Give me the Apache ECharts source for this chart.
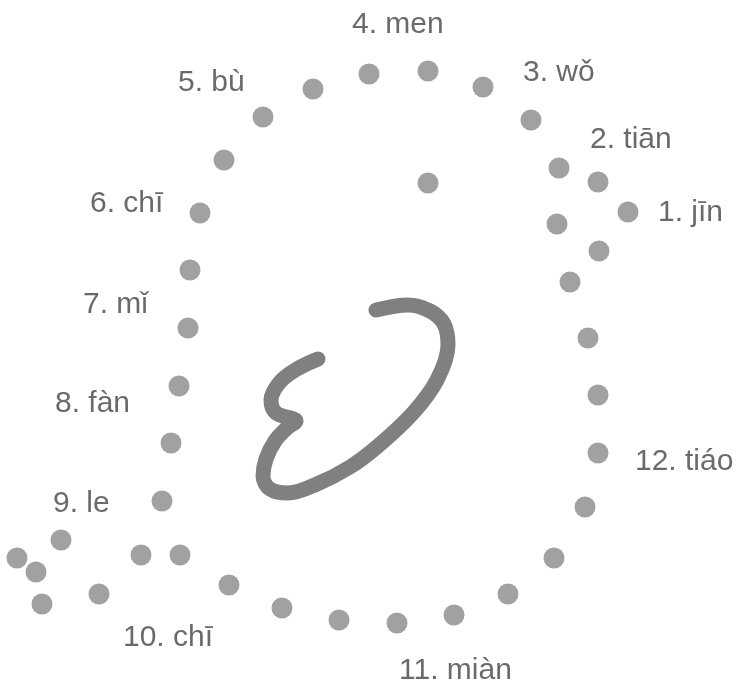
<!DOCTYPE html>
<html>
<head>
<meta charset="utf-8">
<script src="https://cdn.jsdelivr.net/npm/echarts@6/dist/echarts.min.js"></script>
<style>
html,body{margin:0;padding:0;background:#fff;}
#chart{width:743px;height:689px;}
</style>
</head>
<body>
<div id="chart"></div>
<script>
// Dot positions (picture coordinates)
var dotX = [428, 369, 483, 313, 531, 263, 224, 559, 598, 428, 200, 628, 557, 599, 570, 190, 188, 588, 179, 598, 171, 598, 162, 585, 61, 17, 36, 141, 180, 99, 42, 229, 554, 508, 454, 397, 339, 282];
var dotY = [71, 74, 87, 89, 120, 117, 160, 168, 182, 183, 213, 212, 224, 251, 282, 270, 328, 338, 386, 395, 443, 453, 501, 507, 540, 558, 572, 555, 555, 594, 604, 585, 558, 594, 615, 623, 620, 608];

// Hand-drawn stroke in the middle
var strokeX = [318, 297, 280, 271, 276, 296, 287, 275, 266, 263, 270, 288, 317, 350, 378, 413, 437, 448, 444, 430, 408, 376];
var strokeY = [359, 369, 382, 400, 413, 421, 428, 441, 459, 476, 489, 493, 484, 467, 446, 413, 380, 345, 324, 311, 305, 310];

// Word labels
var labelText = ["1. jīn", "2. tiān", "3. wǒ", "4. men", "5. bù", "6. chī", "7. mǐ", "8. fàn", "9. le", "10. chī", "11. miàn", "12. tiáo"];
var labelX = [658, 590, 523, 352, 178, 90, 83, 55, 53, 123, 399, 635];
var labelY = [213, 140, 73, 25, 83, 204, 305, 404, 504, 638, 671, 462];

var dotData = dotX.map(function (x, i) { return [x, dotY[i]]; });
var strokeData = strokeX.map(function (x, i) { return [x, strokeY[i]]; });
var labelData = labelText.map(function (t, i) { return { name: t, value: [labelX[i], labelY[i]] }; });

var chart = echarts.init(document.getElementById('chart'));
chart.setOption({
  animation: false,
  backgroundColor: '#ffffff',
  grid: { left: 0, right: 0, top: 0, bottom: 0 },
  xAxis: { type: 'value', min: 0, max: 743, show: false },
  yAxis: { type: 'value', min: 0, max: 689, inverse: true, show: false },
  series: [
    {
      type: 'line',
      data: strokeData,
      smooth: 0.35,
      showSymbol: false,
      lineStyle: { color: '#808080', width: 15, cap: 'round', join: 'round' },
      z: 1
    },
    {
      type: 'scatter',
      data: dotData,
      symbol: 'circle',
      symbolSize: 21,
      itemStyle: { color: '#8a8a8a' },
      z: 2
    },
    {
      type: 'scatter',
      data: labelData,
      symbolSize: 0,
      label: {
        show: true,
        position: 'right',
        distance: 0,
        formatter: '{b}',
        align: 'left',
        verticalAlign: 'middle',
        fontFamily: '"Liberation Sans", sans-serif',
        fontSize: 30,
        color: '#454545'
      },
      z: 3
    }
  ]
});
</script>
</body>
</html>
